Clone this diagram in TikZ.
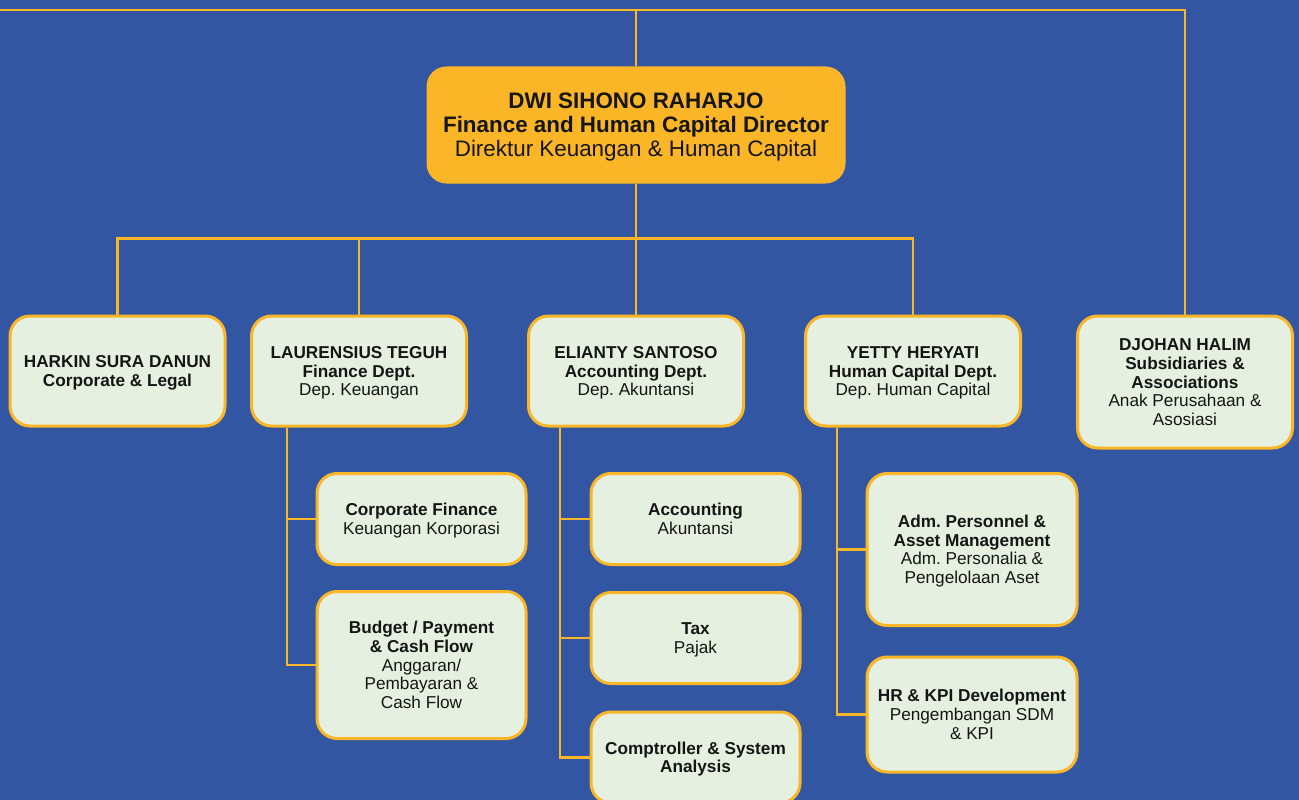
\documentclass[tikz,border=0pt]{standalone}
\usepackage{fontspec}
\setmainfont{Liberation Sans}
\frenchspacing
\newcommand{\upstrut}{\rule{0pt}{16.5pt}}
\newcommand{\dnstrut}{\rule[-4.5pt]{0pt}{4.5pt}}
\newcommand{\bigup}{\rule{0pt}{20.5pt}}
\newcommand{\bigdn}{\rule[-5pt]{0pt}{5pt}}
\begin{document}
\definecolor{bgblue}{HTML}{3356A2}
\definecolor{gold}{HTML}{FAB626}
\definecolor{mint}{HTML}{E6F0E0}
\definecolor{ink}{HTML}{151515}
\begin{tikzpicture}[x=1pt,y=-1pt,
  link/.style={draw=gold,line width=2.7pt},
  unit/.style={draw=gold,line width=3pt,fill=mint,rounded corners=20pt,
    inner sep=0pt,align=center,text=ink,
    font=\fontsize{17.2}{18.6}\selectfont},
  director/.style={fill=gold,rounded corners=20pt,inner sep=0pt,align=center,
    text=ink,font=\fontsize{22.4}{24}\selectfont}]
\useasboundingbox (0,0) rectangle (1299,800);
\clip (0,0) rectangle (1299,800);
\fill[bgblue] (0,0) rectangle (1299,800);

% director
\node[director,minimum width=419pt,minimum height=117pt] (dir) at (636,125)
  {\bigup\textbf{DWI SIHONO RAHARJO}\\\textbf{Finance and Human Capital Director}\\Direktur Keuangan \& Human Capital\bigdn};

% department heads
\node[unit,minimum width=215pt,minimum height=110pt] (harkin) at (117.5,371)
  {\upstrut\textbf{HARKIN SURA DANUN}\\\textbf{Corporate \& Legal}\dnstrut};
\node[unit,minimum width=215pt,minimum height=110pt] (laur) at (359,371)
  {\upstrut\textbf{LAURENSIUS TEGUH}\\\textbf{Finance Dept.}\\Dep. Keuangan\dnstrut};
\node[unit,minimum width=215pt,minimum height=110pt] (eli) at (636,371)
  {\upstrut\textbf{ELIANTY SANTOSO}\\\textbf{Accounting Dept.}\\Dep. Akuntansi\dnstrut};
\node[unit,minimum width=215pt,minimum height=110pt] (yetty) at (913,371)
  {\upstrut\textbf{YETTY HERYATI}\\\textbf{Human Capital Dept.}\\Dep. Human Capital\dnstrut};
\node[unit,minimum width=215pt,minimum height=132pt] (djohan) at (1185,382)
  {\upstrut\textbf{DJOHAN HALIM}\\\textbf{Subsidiaries \&}\\\textbf{Associations}\\Anak Perusahaan \&\\Asosiasi\dnstrut};

% finance sections
\node[unit,minimum width=209pt,minimum height=91pt] (cf) at (421.5,519)
  {\upstrut\textbf{Corporate Finance}\\Keuangan Korporasi\dnstrut};
\node[unit,minimum width=209pt,minimum height=147pt] (bud) at (421.5,665)
  {\upstrut\textbf{Budget / Payment}\\\textbf{\& Cash Flow}\\Anggaran/\\Pembayaran \&\\Cash Flow\dnstrut};

% accounting sections
\node[unit,minimum width=209pt,minimum height=91pt] (acc) at (695.5,519)
  {\upstrut\textbf{Accounting}\\Akuntansi\dnstrut};
\node[unit,minimum width=209pt,minimum height=91pt] (tax) at (695.5,638)
  {\upstrut\textbf{Tax}\\Pajak\dnstrut};
\node[unit,minimum width=209pt,minimum height=91pt] (comp) at (695.5,757.5)
  {\upstrut\textbf{Comptroller \& System}\\\textbf{Analysis}\dnstrut};

% human capital sections
\node[unit,minimum width=210pt,minimum height=152pt] (adm) at (972,549.5)
  {\upstrut\textbf{Adm. Personnel \&}\\\textbf{Asset Management}\\Adm. Personalia \&\\Pengelolaan Aset\dnstrut};
\node[unit,minimum width=210pt,minimum height=115pt] (hr) at (972,714.5)
  {\upstrut\textbf{HR \& KPI Development}\\Pengembangan SDM\\\& KPI\dnstrut};

% reference points for the bus lines
\coordinate (topL) at (0,10);
\coordinate (topR) at (1185,10);
\coordinate (bus) at (0,238.5);
\coordinate (fsp) at (287,0);
\coordinate (asp) at (560,0);
\coordinate (hsp) at (837,0);

% top line and the right-hand branch
\draw[link] (topL) -- (topR) -- (djohan.north);
\draw[link] (dir.north) -- (dir.north |- topL);

% director to department heads
\draw[link] (dir.south) -- (eli.north);
\draw[link] (harkin.north) -- (harkin.north |- bus) -- (yetty.north |- bus) -- (yetty.north);
\draw[link] (laur.north) -- (laur.north |- bus);

% section spines
\draw[link] (fsp |- laur.south) |- (bud.west);
\draw[link] (fsp |- cf.west) -- (cf.west);
\draw[link] (asp |- eli.south) |- (comp.west);
\draw[link] (asp |- acc.west) -- (acc.west);
\draw[link] (asp |- tax.west) -- (tax.west);
\draw[link] (hsp |- yetty.south) |- (hr.west);
\draw[link] (hsp |- adm.west) -- (adm.west);
\end{tikzpicture}
\end{document}
